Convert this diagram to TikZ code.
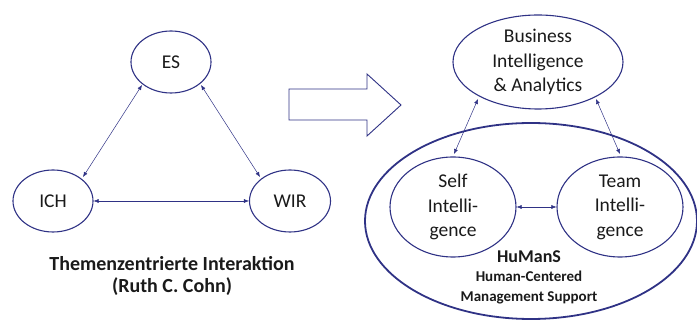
\documentclass[tikz,border=0pt]{standalone}
\usepackage{fontspec}
\setmainfont{Carlito}
\usetikzlibrary{arrows.meta,shapes.geometric}
\definecolor{navy}{HTML}{2F3285}
\definecolor{txt}{HTML}{1A1A1A}
\tikzset{
  ell/.style={draw=navy, line width=1.1pt, ellipse, inner sep=0pt, text=txt, font=\fontsize{19.5}{24.5}\selectfont, align=center},
  conn/.style={draw=navy, line width=0.5pt, {Latex[length=5pt,width=4pt]}-{Latex[length=5pt,width=4pt]}},
}
\begin{document}
\begin{tikzpicture}[x=1pt,y=-1pt]
\useasboundingbox (0,0) rectangle (697,320);
% left triangle
\node[ell, minimum width=80pt, minimum height=62pt] (es) at (171,62) {ES};
\node[ell, minimum width=80pt, minimum height=62pt] (ich) at (53,201) {ICH};
\node[ell, minimum width=81pt, minimum height=62pt] (wir) at (290,201) {WIR};
\coordinate (esl) at (142,85);
\coordinate (esr) at (201,85);
\coordinate (ichr) at (83,177);
\coordinate (wirl) at (260,177);
\draw[conn] (esl) -- (ichr);
\draw[conn] (esr) -- (wirl);
\draw[conn] (ich.east) -- (wir.west);
\node[font=\bfseries\fontsize{20}{22}\selectfont, text=txt, align=center] (tzi) at (172,276) {Themenzentrierte Interaktion\\(Ruth C. Cohn)};
% hollow arrow
\draw[draw=navy, line width=0.9pt, fill=white] (289,89) -- (367,89) -- (367,74) -- (401,105) -- (367,136) -- (367,120) -- (289,120) -- cycle;
% right part
\node[draw=navy, line width=1.8pt, ellipse, minimum width=332pt, minimum height=196pt] (big) at (531,221) {};
\node[ell, minimum width=170pt, minimum height=94pt] (bi) at (538,62) {Business\\Intelligence\\\& Analytics};
\node[ell, minimum width=126pt, minimum height=100pt] (self) at (453,207) {Self\\Intelli-\\gence};
\node[ell, minimum width=126pt, minimum height=100pt] (team) at (620,207) {Team\\Intelli-\\gence};
\coordinate (bil) at (478,99);
\coordinate (bir) at (596,99);
\coordinate (selft) at (454,154);
\coordinate (teamt) at (620,154);
\draw[conn] (bil) -- (selft);
\draw[conn] (bir) -- (teamt);
\draw[conn] (self.east) -- (team.west);
\node[font=\bfseries\fontsize{18}{22}\selectfont, text=txt] (hum) at (529,257) {HuManS};
\node[font=\bfseries\fontsize{15}{20}\selectfont, text=txt, align=center] (hcms) at (529,288) {Human-Centered\\Management Support};
\end{tikzpicture}
\end{document}
